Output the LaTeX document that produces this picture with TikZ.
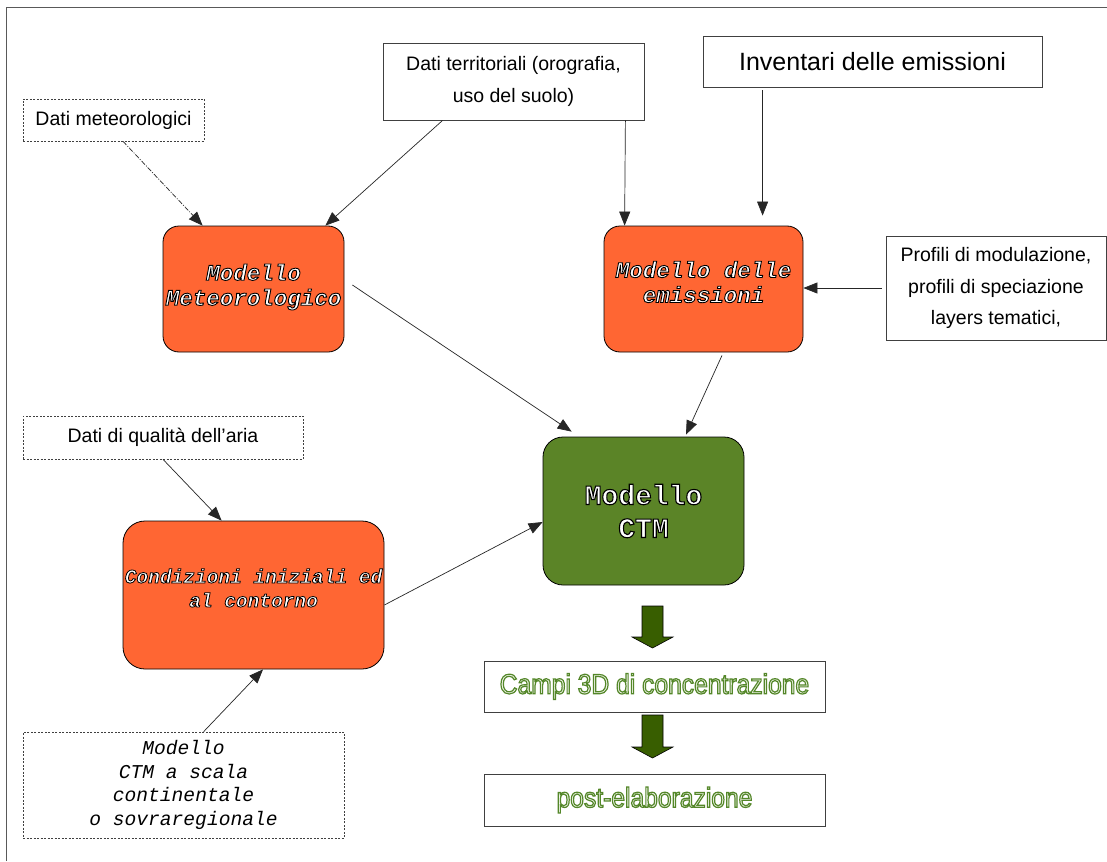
\documentclass[tikz,border=0pt]{standalone}
\usepackage{fontspec}
\setmainfont{Liberation Sans}
\newfontfamily\cour{Liberation Mono}
\newfontfamily\gsans[FakeStretch=0.88]{Liberation Sans}
\usetikzlibrary{arrows.meta}
\definecolor{orng}{HTML}{FF6633}
\definecolor{ctmgreen}{HTML}{5B8427}
\definecolor{dkgreen}{HTML}{385E00}
\definecolor{palegreen}{HTML}{F2F6EC}
% outlined text via PDF text rendering mode 2 (fill + stroke)
\newcommand\ow[2][0.9]{{\color{white}\special{pdf:code 0 G 2 Tr #1 w}#2\special{pdf:code 0 Tr}}}
\newcommand\og[1]{{\color{palegreen}\special{pdf:code 0.33 0.53 0.16 RG 2 Tr 1.2 w}#1\special{pdf:code 0 Tr}}}
\tikzset{
 box/.style={draw=black!75, line width=0.8pt, fill=white, inner sep=0pt, align=center,
   font=\fontsize{19.5}{31.5}\selectfont},
 dbox/.style={box, dash pattern=on 2pt off 1.5pt, line width=0.7pt},
 obox/.style={draw=black, line width=0.8pt, fill=orng, rounded corners=16pt, inner sep=0pt},
 gbox/.style={obox, fill=ctmgreen, rounded corners=20pt},
 otext/.style={inner sep=0pt, align=center, font=\cour\bfseries\itshape\fontsize{22.5}{25}\selectfont},
 conn/.style={draw=black!85, line width=0.7pt, -{Triangle[length=14pt,width=11pt]}},
 blockarrow/.style={draw=black, line width=0.6pt, fill=dkgreen},
 frame/.style={draw=black!65, line width=1pt}
}
\begin{document}
\begin{tikzpicture}[x=1pt, y=-1pt]
\useasboundingbox (0,0) rectangle (1107,861);
\fill[white] (0,0) rectangle (1107,861);
\draw[frame] (6,861) -- (6,8) -- (1107,8);

% input boxes
\node[dbox, minimum width=181pt, minimum height=42pt] (dm) at (113.5,120) {Dati meteorologici};
\node[box, minimum width=261pt, minimum height=77pt] (dt) at (513.5,81.5) {Dati territoriali (orografia,\\uso del suolo)};
\node[box, minimum width=339pt, minimum height=51pt, font=\fontsize{25}{30}\selectfont] (inv) at (872.5,61.5) {Inventari delle emissioni};
\node[box, minimum width=220pt, minimum height=104pt] (prof) at (996,288) {Profili di modulazione,\\profili di speciazione\\layers tematici,};
\node[dbox, minimum width=280pt, minimum height=43pt] (dq) at (163,437.5) {Dati di qualit\`a dell'aria};
\node[dbox, minimum width=321pt, minimum height=106pt, font=\cour\itshape\fontsize{19.6}{23.5}\selectfont] (reg) at (183.5,785) {Modello\\CTM a scala\\continentale\\o sovraregionale};

% model boxes
\node[obox, minimum width=181pt, minimum height=126pt] (met) at (253.5,289) {};
\node[otext] (met-t) at ([yshift=2pt]met.center) {\ow{Modello}\\\ow{Meteorologico}};
\node[obox, minimum width=199pt, minimum height=126pt] (emi) at (703.5,289) {};
\node[otext] (emi-t) at ([yshift=7pt]emi.center) {\ow{Modello delle}\\\ow{emissioni}};
\node[obox, minimum width=261pt, minimum height=148pt, rounded corners=22pt] (cond) at (253.5,595) {};
\node[otext, font=\cour\bfseries\itshape\fontsize{19.5}{24}\selectfont] (cond-t) at ([yshift=7pt]cond.center) {\ow[0.8]{Condizioni iniziali ed}\\\ow[0.8]{al contorno}};
\node[gbox, minimum width=201pt, minimum height=148pt] (ctm) at (643.5,511) {};
\node[otext, font=\cour\bfseries\fontsize{28}{33}\selectfont] (ctm-t) at (ctm.center) {\ow[1.1]{Modello}\\\ow[1.1]{CTM}};

% output boxes
\node[box, minimum width=341pt, minimum height=51pt, font=\gsans\fontsize{28}{32}\selectfont] (campi) at (654.5,686.5) {\og{Campi 3D di concentrazione}};
\node[box, minimum width=341pt, minimum height=52pt, font=\gsans\fontsize{28}{32}\selectfont] (post) at (654.5,800) {\og{post-elaborazione}};

% connectors
\draw[conn, dash pattern=on 5pt off 1.5pt on 1pt off 1.5pt] ([xshift=9.5pt]dm.south) -- ([xshift=40pt]met.north west);
\draw[conn] ([xshift=60pt]dt.south west) -- ([xshift=-19pt]met.north east);
\draw[conn] ([xshift=-19pt]dt.south east) -- ([xshift=21pt]emi.north west);
\draw[conn] ([xshift=60pt,yshift=-3pt]inv.south west) -- ([xshift=159pt,yshift=10pt]emi.north west);
\draw[conn] ([xshift=-4pt]prof.west) -- (emi.east |- prof.west);
\draw[conn] ([xshift=8pt,yshift=4pt]met.east) -- ([xshift=29pt,yshift=5pt]ctm.north west);
\draw[conn] ([xshift=18.5pt,yshift=-3pt]emi.south) -- ([xshift=42.5pt,yshift=2pt]ctm.north);
\draw[conn] ([yshift=-10pt]cond.east) -- ([yshift=-11pt]ctm.west);
\draw[conn] (dq.south) -- ([xshift=99pt]cond.north west);
\draw[conn] ([xshift=181pt]reg.north west) -- ([xshift=9.5pt]cond.south);

% block arrows
\coordinate (ba1) at (652.5,606);
\coordinate (ba2) at (652.5,715);
\draw[blockarrow] (ba1) ++(-10.5,0) -- ++(21,0) -- ++(0,31) -- ++(10,0) -- ++(-20.5,11) -- ++(-20.5,-11) -- ++(10,0) -- cycle;
\draw[blockarrow] (ba2) ++(-10.5,0) -- ++(21,0) -- ++(0,32) -- ++(10,0) -- ++(-20.5,11) -- ++(-20.5,-11) -- ++(10,0) -- cycle;
\end{tikzpicture}
\end{document}
